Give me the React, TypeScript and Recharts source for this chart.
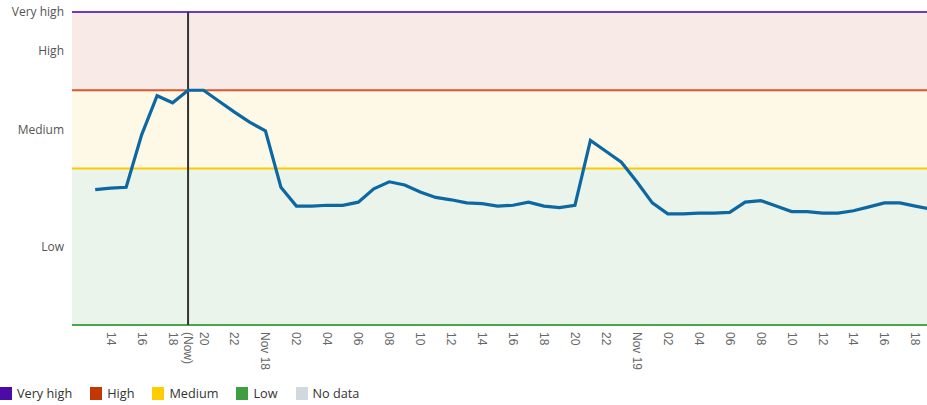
import { LineChart, Line, XAxis, YAxis, ReferenceArea, ReferenceLine, Legend } from 'recharts';

// hours counted from Nov 17 00:00
const hours = [
  13, 14, 15, 16, 17, 18, 19, 20, 21, 22, 23, 24, 25, 26, 27, 28, 29, 30, 31, 32, 33, 34, 35, 36, 37, 38, 39, 40,
  41, 42, 43, 44, 45, 46, 47, 48, 49, 50, 51, 52, 53, 54, 55, 56, 57, 58, 59, 60, 61, 62, 63, 64, 65, 66, 67,
];
const levels = [
  1.73, 1.75, 1.76, 2.43, 2.93, 2.84, 3.0, 3.0, 2.86, 2.72, 2.59, 2.48, 1.76, 1.52, 1.52, 1.53, 1.53, 1.57, 1.74,
  1.83, 1.79, 1.7, 1.63, 1.6, 1.56, 1.55, 1.52, 1.53, 1.57, 1.52, 1.5, 1.53, 2.36, 2.22, 2.08, 1.83, 1.56, 1.42,
  1.42, 1.43, 1.43, 1.44, 1.57, 1.59, 1.52, 1.45, 1.45, 1.43, 1.43, 1.46, 1.51, 1.56, 1.56, 1.52, 1.48,
];

const tickHours = [14, 16, 18, 19, 20, 22, 24, 26, 28, 30, 32, 34, 36, 38, 40, 42, 44, 46, 48, 50, 52, 54, 56, 58, 60, 62, 64, 66];
const tickLabels = [
  '14', '16', '18', '(Now)', '20', '22', 'Nov 18', '02', '04', '06', '08', '10', '12', '14', '16', '18', '20', '22',
  'Nov 19', '02', '04', '06', '08', '10', '12', '14', '16', '18',
];
const nowHour = 19;

const levelTicks = [1, 2.5, 3.5, 4];
const levelNames = ['Low', 'Medium', 'High', 'Very high'];

const legendNames = ['Very high', 'High', 'Medium', 'Low', 'No data'];
const legendColors = ['#4c0aa8', '#c43700', '#ffcc00', '#3e9e40', '#d2d9de'];

const data = hours.map((h, i) => ({ hour: h, level: levels[i] }));

const FONT = '"Open Sans", sans-serif';

function XTick(props: any) {
  const { x, y, payload } = props;
  const idx = tickHours.indexOf(payload.value);
  const label = idx >= 0 ? tickLabels[idx] : '';
  const ty = y - 1;
  return (
    <text
      x={x}
      y={ty}
      transform={`rotate(90, ${x}, ${ty})`}
      textAnchor="start"
      dominantBaseline="central"
      fontFamily='"Liberation Sans", Arial, sans-serif'
      fontSize={12}
      fill="#666"
    >
      {label}
    </text>
  );
}

function renderLegend() {
  return (
    <div
      style={{ display: 'flex', alignItems: 'center', paddingTop: 9, fontFamily: FONT, fontSize: 12.7, color: '#333' }}
    >
      {legendNames.map((name, i) => (
        <div key={name} style={{ display: 'flex', alignItems: 'center', marginRight: 18 }}>
          <span style={{ width: 12, height: 13, background: legendColors[i], marginRight: 5, display: 'inline-block' }} />
          {name}
        </div>
      ))}
    </div>
  );
}

export default function App() {
  return (
    <div style={{ position: 'absolute', left: 0, top: 0 }}>
      <LineChart width={927} height={405} data={data} margin={{ top: 12, right: 0, left: 0, bottom: 0 }}>
        <ReferenceArea y1={0} y2={2} fill="#ebf4eb" fillOpacity={1} stroke="none" />
        <ReferenceArea y1={2} y2={3} fill="#fef8e7" fillOpacity={1} stroke="none" />
        <ReferenceArea y1={3} y2={4} fill="#f8eae7" fillOpacity={1} stroke="none" />
        <XAxis
          dataKey="hour"
          type="number"
          domain={[11.5, 66.75]}
          allowDataOverflow
          ticks={tickHours}
          tick={<XTick />}
          tickLine={false}
          axisLine={false}
          interval={0}
          height={50}
        />
        <YAxis
          type="number"
          domain={[0, 4]}
          ticks={levelTicks}
          tickFormatter={(v: number) => levelNames[levelTicks.indexOf(v)] ?? ''}
          tick={{ fill: '#555', fontSize: 12, fontFamily: FONT }}
          tickLine={false}
          axisLine={false}
          width={72}
          interval={0}
        />
        <ReferenceLine y={0} stroke="#4aa84a" strokeWidth={2} />
        <ReferenceLine y={2} stroke="#fcc900" strokeWidth={2} />
        <ReferenceLine y={3} stroke="#d9572b" strokeWidth={2} />
        <ReferenceLine y={4} stroke="#6b3bc4" strokeWidth={2} />
        <ReferenceLine x={nowHour} stroke="#333" strokeWidth={2} />
        <Line
          type="linear"
          dataKey="level"
          stroke="#0c68a2"
          strokeWidth={3.2}
          dot={false}
          isAnimationActive={false}
        />
        <Legend verticalAlign="bottom" align="left" height={30} content={renderLegend} />
      </LineChart>
    </div>
  );
}
